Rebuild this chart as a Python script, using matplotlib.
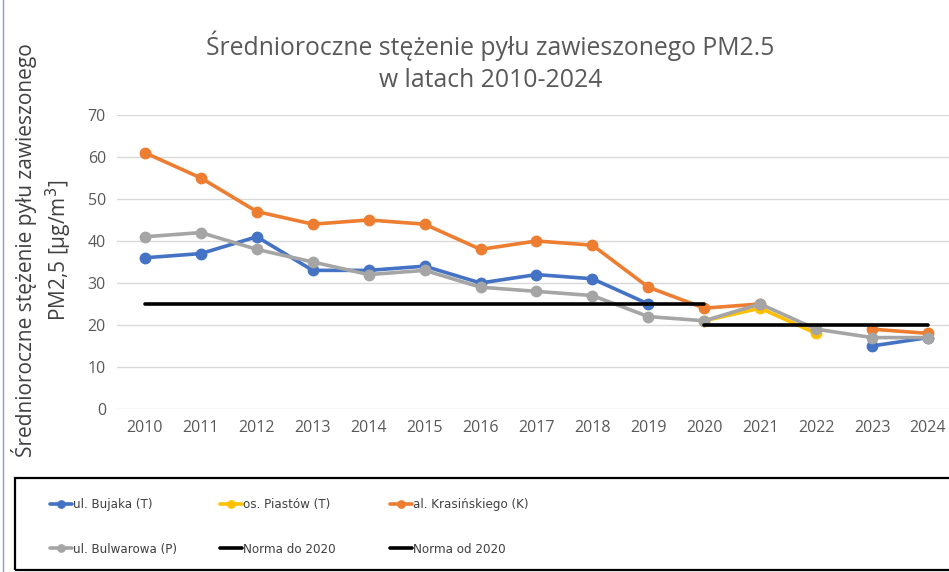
import matplotlib.pyplot as plt
import numpy as np
from matplotlib.patches import Rectangle

plt.rcParams["font.family"] = ["Open Sans", "DejaVu Sans"]

years = [str(y) for y in range(2010, 2025)]

# None = brak pomiaru w danym roku
bujaka = [36, 37, 41, 33, 33, 34, 30, 32, 31, 25, None, None, None, 15, 17]
piastow = [None, None, None, None, None, None, None, None, None, None, 21, 24, 18, None, None]
krasinskiego = [61, 55, 47, 44, 45, 44, 38, 40, 39, 29, 24, 25, None, 19, 18]
bulwarowa = [41, 42, 38, 35, 32, 33, 29, 28, 27, 22, 21, 25, 19, 17, 17]
norma_do_2020 = [25] * 11 + [None] * 4
norma_od_2020 = [None] * 10 + [20] * 5

series = [
    ("ul. Bujaka (T)", bujaka, "#4472c4", "o"),
    ("os. Piastów (T)", piastow, "#ffc000", "o"),
    ("al. Krasińskiego (K)", krasinskiego, "#ed7d31", "o"),
    ("ul. Bulwarowa (P)", bulwarowa, "#a5a5a5", "o"),
    ("Norma do 2020", norma_do_2020, "#000000", None),
    ("Norma od 2020", norma_od_2020, "#000000", None),
]


def to_arr(vals):
    return np.array([np.nan if v is None else v for v in vals], dtype=float)


fig = plt.figure(figsize=(9.49, 5.72), dpi=100)
ax = fig.add_axes([0.1233, 0.285, 0.884, 0.514])

x = np.arange(len(years))
handles = []
for label, vals, color, marker in series:
    (h,) = ax.plot(x, to_arr(vals), color=color, lw=2.6, marker=marker,
                   markersize=7.5, label=label, solid_capstyle="round", zorder=3)
    handles.append(h)

ax.set_xlim(-0.5, len(years) - 0.5)
ax.set_ylim(0, 70)
ax.set_yticks(range(0, 71, 10))
ax.set_xticks(x)
ax.set_xticklabels(years)
ax.grid(axis="y", color="#d9d9d9", lw=1, zorder=0)
for s in ax.spines.values():
    s.set_visible(False)
ax.tick_params(length=0, labelsize=11.5, colors="#595959", pad=8)

ax.set_title("Średnioroczne stężenie pyłu zawieszonego PM2.5\nw latach 2010-2024",
             fontsize=17.8, color="#595959", pad=20, x=0.445, linespacing=1.4)
fig.text(0.045, 0.563, "Średnioroczne stężenie pyłu zawieszonego\nPM2,5 [µg/m$^3$]",
         rotation=90, ha="center", va="center", fontsize=15, color="#404040",
         linespacing=1.3)

# ramka legendy
fig.patches.append(Rectangle((15 / 949, 2 / 572), 1.0, 92 / 572, transform=fig.transFigure,
                             fill=False, edgecolor="#000000", lw=1.6))
leg_font = {"family": "DejaVu Sans", "stretch": "condensed", "size": 9.5}
col_x = [50, 220, 390]
for i, cx in enumerate(col_x):
    leg = fig.legend(handles=[handles[i], handles[i + 3]], loc="center left",
                     bbox_to_anchor=(cx / 949, 45 / 572), ncol=1, frameon=False,
                     prop=leg_font, handlelength=1.7, handletextpad=0.05,
                     labelspacing=2.4, markerscale=0.7, labelcolor="#404040",
                     borderaxespad=0, borderpad=0)

# krawędź obszaru wykresu
fig.add_artist(plt.Line2D([3 / 949, 3 / 949], [0, 1], transform=fig.transFigure,
                          color="#7f9fd0", lw=1))

fig.savefig("out.png", dpi=100)
